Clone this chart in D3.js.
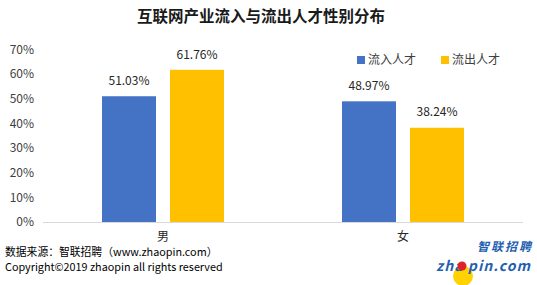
<!DOCTYPE html>
<html>
<head>
<meta charset="utf-8">
<script src="https://cdn.jsdelivr.net/npm/d3@7"></script>
<style>
  body { margin: 0; background: #fff; }
  text { font-family: "Microsoft YaHei", "Noto Sans CJK SC", sans-serif; }
</style>
</head>
<body>
<script>
const categories = ['男', '女'];
const seriesNames = ['流入人才', '流出人才'];
const inflow = [51.03, 48.97];
const outflow = [61.76, 38.24];
const yTicks = [0, 10, 20, 30, 40, 50, 60, 70];
const colors = ['#4472C4', '#FFC000'];

const W = 537, H = 285;
const svg = d3.select('body').append('svg')
  .attr('width', W).attr('height', H);

svg.append('text')
  .attr('x', 261).attr('y', 22)
  .attr('text-anchor', 'middle')
  .attr('font-size', 15.5).attr('font-weight', 'bold')
  .attr('fill', '#1a1a1a')
  .text('互联网产业流入与流出人才性别分布');

const x = d3.scaleBand().domain(categories).range([43, 523]);
const x1 = d3.scaleBand().domain(seriesNames).range([0, 122]).paddingInner(0.206);
const y = d3.scaleLinear().domain([0, 70]).range([222, 49.5]);

// y axis labels
svg.append('g').selectAll('text')
  .data(yTicks)
  .join('text')
  .attr('x', 34).attr('y', d => y(d))
  .attr('dy', '0.35em')
  .attr('text-anchor', 'end')
  .attr('font-size', 12)
  .attr('fill', '#404040')
  .text(d => d + '%');

const data = categories.map((c, i) => ({
  cat: c,
  vals: [inflow[i], outflow[i]]
}));

const groups = svg.append('g').selectAll('g')
  .data(data)
  .join('g')
  .attr('transform', d => `translate(${x(d.cat) + (x.bandwidth() - 122) / 2},0)`);

groups.selectAll('rect')
  .data(d => d.vals.map((v, j) => ({ key: seriesNames[j], v, j })))
  .join('rect')
  .attr('x', d => x1(d.key))
  .attr('width', x1.bandwidth())
  .attr('y', d => y(d.v))
  .attr('height', d => y(0) - y(d.v))
  .attr('fill', d => colors[d.j]);

groups.selectAll('text.lbl')
  .data(d => d.vals.map((v, j) => ({ key: seriesNames[j], v, j })))
  .join('text')
  .attr('class', 'lbl')
  .attr('x', d => x1(d.key) + x1.bandwidth() / 2)
  .attr('y', d => y(d.v) - 15.5)
  .attr('dy', '0.35em')
  .attr('text-anchor', 'middle')
  .attr('font-size', 12)
  .attr('fill', '#262626')
  .text(d => d.v.toFixed(2) + '%');

// baseline
svg.append('line')
  .attr('x1', 43).attr('x2', 523)
  .attr('y1', y(0) + 0.5).attr('y2', y(0) + 0.5)
  .attr('stroke', '#d9d9d9');

// category labels
svg.append('g').selectAll('text')
  .data(categories)
  .join('text')
  .attr('x', d => x(d) + x.bandwidth() / 2)
  .attr('y', 237)
  .attr('dy', '0.35em')
  .attr('text-anchor', 'middle')
  .attr('font-size', 12)
  .attr('fill', '#262626')
  .text(d => d);

// legend
const legend = svg.append('g').selectAll('g')
  .data(seriesNames)
  .join('g')
  .attr('transform', (d, i) => `translate(${357 + i * 84},56)`);
legend.append('rect')
  .attr('width', 8).attr('height', 8)
  .attr('fill', (d, i) => colors[i]);
legend.append('text')
  .attr('x', 11).attr('y', 4)
  .attr('dy', '0.35em')
  .attr('font-size', 12)
  .attr('fill', '#404040')
  .text(d => d);

// footer
svg.append('text')
  .attr('x', 5).attr('y', 256)
  .attr('font-size', 10.8).attr('fill', '#000')
  .text('数据来源：智联招聘（www.zhaopin.com）');
svg.append('text')
  .attr('x', 5).attr('y', 271)
  .attr('font-size', 10.8).attr('fill', '#000')
  .text('Copyright©2019 zhaopin all rights reserved');

// logo
const logo = svg.append('g');
logo.append('circle').attr('cx', 463).attr('cy', 276).attr('r', 10).attr('fill', '#FFD200');
logo.append('text')
  .attr('x', 477).attr('y', 251)
  .attr('font-size', 12).attr('font-weight', 'bold').attr('font-style', 'italic')
  .attr('textLength', 54)
  .attr('fill', '#1f5fb0')
  .text('智联招聘');
logo.append('text')
  .attr('x', 436).attr('y', 271)
  .attr('font-size', 14).attr('font-weight', 'bold').attr('font-style', 'italic')
  .attr('font-family', 'Arial, "Liberation Sans", sans-serif')
  .attr('textLength', 94)
  .attr('fill', '#1f5fb0')
  .text('zha pin.com');
logo.append('circle').attr('cx', 462).attr('cy', 266).attr('r', 4.5).attr('fill', '#d9262c');
</script>
</body>
</html>
